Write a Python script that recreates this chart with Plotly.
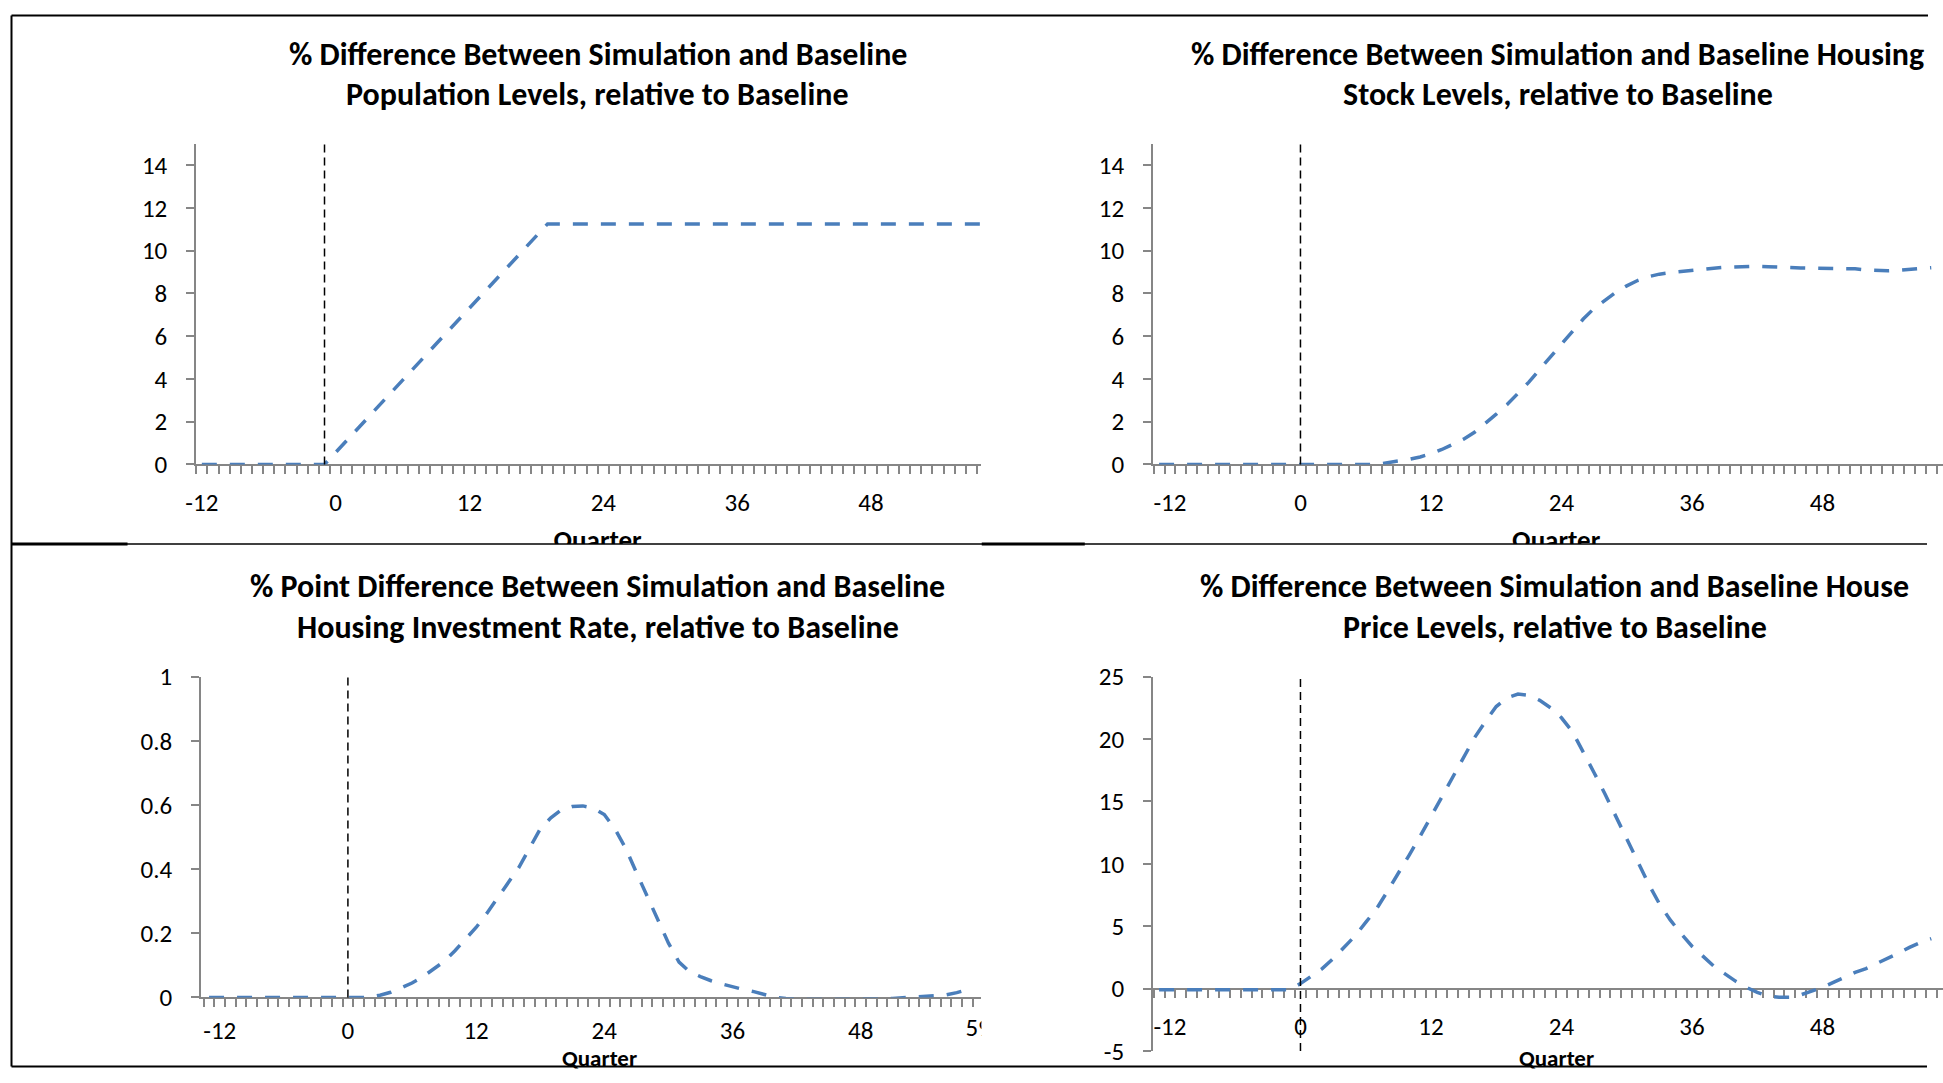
import plotly.graph_objects as go

# ---------------- data ----------------
quarters_pop = list(range(-12, 59))
population = [0, 0, 0, 0, 0, 0, 0, 0, 0, 0, 0, 0,
              0.56, 1.13, 1.69, 2.25, 2.81, 3.38, 3.94, 4.50, 5.06, 5.63,
              6.19, 6.75, 7.31, 7.88, 8.44, 9.00, 9.56, 10.13, 10.69,
              11.25, 11.25, 11.25, 11.25, 11.25, 11.25, 11.25, 11.25, 11.25, 11.25,
              11.25, 11.25, 11.25, 11.25, 11.25, 11.25, 11.25, 11.25, 11.25, 11.25,
              11.25, 11.25, 11.25, 11.25, 11.25, 11.25, 11.25, 11.25, 11.25, 11.25,
              11.25, 11.25, 11.25, 11.25, 11.25, 11.25, 11.25, 11.25, 11.25, 11.25]

quarters = list(range(-13, 59))
housing_stock = [0, 0, 0, 0, 0, 0, 0, 0, 0, 0, 0, 0, 0, 0, 0, 0, 0, 0, 0, 0, 0,
                 0.08, 0.15, 0.24, 0.35, 0.5, 0.7, 0.93, 1.18, 1.5, 1.9,
                 2.35, 2.8, 3.3, 3.85, 4.45, 5.05, 5.65, 6.25, 6.8, 7.3,
                 7.7, 8.05, 8.35, 8.6, 8.78, 8.9, 8.97, 9.03, 9.08, 9.13,
                 9.18, 9.22, 9.25, 9.27, 9.27, 9.25, 9.22, 9.2, 9.19, 9.18,
                 9.18, 9.18, 9.18, 9.15, 9.1, 9.06, 9.06, 9.08, 9.12, 9.16, 9.2]

investment_rate = [0, 0, 0, 0, 0, 0, 0, 0, 0, 0, 0, 0, 0, 0, 0, 0,
                   0.007, 0.016, 0.03, 0.045, 0.064, 0.088, 0.112, 0.145, 0.18, 0.218,
                   0.262, 0.31, 0.355, 0.405, 0.465, 0.525, 0.56, 0.585, 0.595, 0.597,
                   0.59, 0.57, 0.525, 0.465, 0.39, 0.315, 0.24, 0.17, 0.11, 0.08,
                   0.065, 0.052, 0.042, 0.033, 0.025, 0.018, 0.008, 0.0, -0.003, -0.005,
                   -0.006, -0.006, -0.006, -0.006, -0.005, -0.005, -0.005, -0.004, -0.003, -0.001,
                   0.001, 0.003, 0.004, 0.008, 0.015, 0.024]

house_price = [-0.1, -0.1, -0.1, -0.1, -0.1, -0.1, -0.1, -0.1, -0.1, -0.1, -0.1, -0.1, -0.1,
               0.4, 1.0, 1.6, 2.4, 3.3, 4.2, 5.3, 6.4, 7.8, 9.2,
               10.7, 12.2, 13.8, 15.4, 17.0, 18.6, 20.1, 21.4, 22.6, 23.3,
               23.6, 23.5, 23.1, 22.5, 21.7, 20.6, 19.0, 17.3, 15.6, 13.8,
               11.9, 10.1, 8.4, 6.8, 5.5, 4.4, 3.4, 2.6, 1.8, 1.2,
               0.6, 0.1, -0.3, -0.6, -0.7, -0.7, -0.5, -0.2, 0.1, 0.5,
               0.9, 1.3, 1.6, 2.0, 2.4, 2.85, 3.3, 3.7, 4.0]

shock_quarter = [-1, 0, 0, 0]

x_tickvals = [-12, 0, 12, 24, 36, 48, 59]
x_ticktext = ["-12", "0", "12", "24", "36", "48", "59"]
y1_tickvals = [0, 2, 4, 6, 8, 10, 12, 14]
y3_tickvals = [0, 0.2, 0.4, 0.6, 0.8, 1]
y3_ticktext = ["0", "0.2", "0.4", "0.6", "0.8", "1"]
y4_tickvals = [-5, 0, 5, 10, 15, 20, 25]

titles = [
    ["% Difference Between Simulation and Baseline", "Population Levels, relative to Baseline"],
    ["% Difference Between Simulation and Baseline Housing", "Stock Levels, relative to Baseline"],
    ["% Point Difference Between Simulation and Baseline", "Housing Investment Rate, relative to Baseline"],
    ["% Difference Between Simulation and Baseline House", "Price Levels, relative to Baseline"],
]
x_title = "Quarter"

# ---------------- layout helpers ----------------
W, H = 1943, 1083
F = "Carlito, Lato, 'Open Sans', sans-serif"
BLUE = "#4A7EBB"
GRAY = "#868686"

# the photographed page is inset/scaled: image = offset + design * scale
OX, SX = 11.5, 1931.5 / 1943
OY, SY = 15.0, 1051.0 / 1083


def dx(X):
    return min(max((X - OX) / SX, 0.5), W - 0.5)


def dy(Y):
    return min(max((Y - OY) / SY, 0.5), H - 0.5)


def px(X):
    return dx(X) / W


def py(Y):
    return 1 - dy(Y) / H


fig = go.Figure()

series = [
    (quarters_pop, population, "x", "y"),
    (quarters, housing_stock, "x2", "y2"),
    (quarters, investment_rate, "x3", "y3"),
    (quarters, house_price, "x4", "y4"),
]
for xs, ys, xa, ya in series:
    fig.add_trace(go.Scatter(x=xs, y=ys, mode="lines", xaxis=xa, yaxis=ya,
                             line=dict(color=BLUE, width=3.5, dash="15px,13px"),
                             cliponaxis=False, showlegend=False, hoverinfo="skip"))

tickfont = dict(family=F, size=25, color="black")


def xaxis_style(domain, rng, tickvals, ticktext, anchor, position=None, standoff=15):
    d = dict(domain=domain, range=rng, showgrid=False, zeroline=False,
             showline=True, linecolor=GRAY, linewidth=2,
             tickmode="array", tickvals=tickvals, ticktext=ticktext,
             ticks="", ticklabelstandoff=standoff, tickfont=tickfont,
             minor=dict(ticks="outside", tickmode="linear", tick0=-12.5, dtick=1,
                        ticklen=8, tickwidth=2, tickcolor=GRAY),
             layer="below traces", fixedrange=True, anchor=anchor)
    if position is not None:
        d["position"] = position
    return d


def yaxis_style(domain, rng, tickvals, ticktext, anchor):
    return dict(domain=domain, range=rng, showgrid=False, zeroline=False,
                showline=True, linecolor=GRAY, linewidth=2,
                tickmode="array", tickvals=tickvals, ticktext=ticktext,
                ticks="outside", ticklen=8, tickwidth=2, tickcolor=GRAY,
                ticklabelstandoff=14, tickfont=tickfont,
                layer="below traces", fixedrange=True, anchor=anchor)


top_dom = [py(464), py(143.6)]
p3_dom = [py(996.5), py(676)]
p4_dom = [py(1050), py(676)]
p4_zero_pos = p4_dom[0] + (0 - (-5)) / 30 * (p4_dom[1] - p4_dom[0])

P1X = [-12.5, 57.9]
P2X = [-13.55, 59.08]
P3X = [-13.73, 59.31]

fig.update_layout(
    xaxis=xaxis_style([px(196.7), px(981.7)], P1X, x_tickvals, x_ticktext, "y"),
    yaxis=yaxis_style(top_dom, [0, 15], y1_tickvals, [str(v) for v in y1_tickvals], "x"),
    xaxis2=xaxis_style([px(1153.3), 1.0], P2X, x_tickvals, x_ticktext, "y2"),
    yaxis2=yaxis_style(top_dom, [0, 15], y1_tickvals, [str(v) for v in y1_tickvals], "x2"),
    xaxis3=xaxis_style([px(201.7), px(981.7)], P3X, x_tickvals[:-1], x_ticktext[:-1], "y3",
                       standoff=10),
    yaxis3=yaxis_style(p3_dom, [0, 1], y3_tickvals, y3_ticktext, "x3"),
    xaxis4=xaxis_style([px(1153.3), 1.0], P2X, x_tickvals, x_ticktext, "free", p4_zero_pos),
    yaxis4=yaxis_style(p4_dom, [-5, 25], y4_tickvals, [str(v) for v in y4_tickvals], "x4"),
)

# auxiliary clipping subplots (text partly hidden by overlapping chart frames)
aux = [
    ("x5", "y5", [px(10), px(981.7)], [py(543.5), py(505)], [dx(10), dx(981.7)], [dy(543.5), dy(505)]),
    ("x6", "y6", [px(981.7), 1.0], [py(543.5), py(505)], [dx(981.7), dx(1943)], [dy(543.5), dy(505)]),
    ("x7", "y7", [px(201.7), px(981.7)], [py(1055), py(1005)], P3X, [dy(1055), dy(1005)]),
]
for xa, ya, xd, yd, xr, yr in aux:
    n = xa[1:]
    fig.update_layout(**{
        f"xaxis{n}": dict(domain=xd, range=xr, visible=False, fixedrange=True, anchor=ya),
        f"yaxis{n}": dict(domain=yd, range=yr, visible=False, fixedrange=True, anchor=xa),
    })

qfont = dict(family=F, size=27, color="black")
fig.add_trace(go.Scatter(x=[dx(598)], y=[dy(542)], text=[f"<b>{x_title}</b>"], mode="text",
                         textfont=qfont, xaxis="x5", yaxis="y5", cliponaxis=True,
                         showlegend=False, hoverinfo="skip"))
fig.add_trace(go.Scatter(x=[dx(1556)], y=[dy(542)], text=[f"<b>{x_title}</b>"], mode="text",
                         textfont=qfont, xaxis="x6", yaxis="y6", cliponaxis=True,
                         showlegend=False, hoverinfo="skip"))
fig.add_trace(go.Scatter(x=[x_tickvals[-1]], y=[dy(1028.6)], text=[x_ticktext[-1]], mode="text",
                         textfont=tickfont, xaxis="x7", yaxis="y7", cliponaxis=True,
                         showlegend=False, hoverinfo="skip"))

tfont = dict(family=F, size=32, color="black")
title_pos = [(598, 54, 94), (1558, 54, 94), (598, 586, 627), (1555, 586, 627)]
annotations = []
for (cx, y1, y2), (l1, l2) in zip(title_pos, titles):
    for yy, txt in ((y1, l1), (y2, l2)):
        annotations.append(dict(x=px(cx), y=py(yy), xref="paper", yref="paper",
                                text=f"<b>{txt}</b>", showarrow=False, font=tfont,
                                xanchor="center", yanchor="middle"))
qfont_bottom = dict(family=F, size=23, color="black")
for cx in (600, 1557):
    annotations.append(dict(x=px(cx), y=1 - 1074 / H, xref="paper", yref="paper",
                            text=f"<b>{x_title}</b>", showarrow=False, font=qfont_bottom,
                            xanchor="center", yanchor="middle"))

shapes = []
for i, q in enumerate(shock_quarter):
    sfx = "" if i == 0 else str(i + 1)
    shapes.append(dict(type="line", xref="x" + sfx, yref=f"y{sfx} domain",
                       x0=q, x1=q, y0=0, y1=1,
                       line=dict(color="black", width=1.5, dash="8px,5px")))
for x0, y0, x1, y1, w in [
    (10, 10, 1928, 10, 2),
    (10.5, 10, 10.5, 1082, 2),
    (10, 543.5, 1927, 543.5, 1.5),
    (10, 543.5, 128, 543.5, 3),
    (982, 543.5, 1085, 543.5, 3),
    (10, 1081.5, 1927, 1081.5, 2),
]:
    shapes.append(dict(type="line", xref="paper", yref="paper",
                       x0=px(x0), x1=px(x1), y0=py(y0), y1=py(y1),
                       line=dict(color="black", width=w)))

fig.update_layout(width=W, height=H, margin=dict(l=0, r=0, t=0, b=0),
                  paper_bgcolor="white", plot_bgcolor="white",
                  annotations=annotations, shapes=shapes, showlegend=False,
                  font=dict(family=F))

fig.write_html(
    "out.html",
    config={"displayModeBar": False, "responsive": False},
    post_script=("document.documentElement.style.margin='0';"
                 "document.documentElement.style.overflow='hidden';"
                 "document.body.style.margin='0';"
                 "document.body.style.overflow='hidden';"),
)
